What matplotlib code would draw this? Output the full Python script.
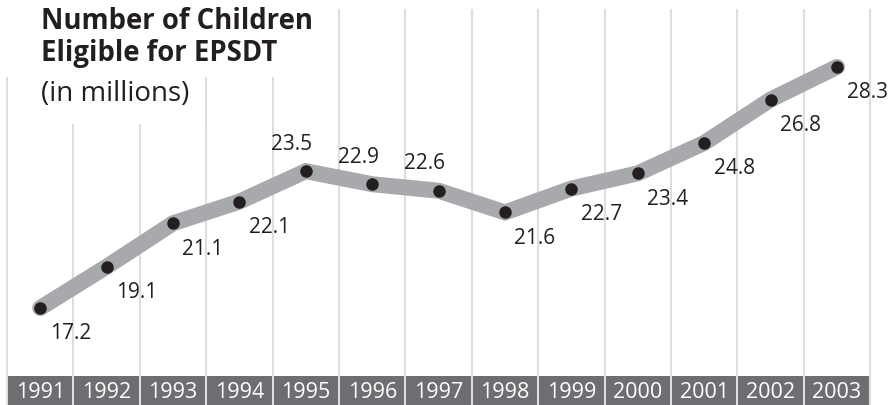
import matplotlib.pyplot as plt
from matplotlib.patches import Rectangle

years = ['1991', '1992', '1993', '1994', '1995', '1996', '1997',
         '1998', '1999', '2000', '2001', '2002', '2003']
children = [17.2, 19.1, 21.1, 22.1, 23.5, 22.9, 22.6,
            21.6, 22.7, 23.4, 24.8, 26.8, 28.3]
label_above = [False, False, False, False, True, True, True,
               False, False, False, False, False, False]

plt.rcParams['font.family'] = ['Open Sans', 'DejaVu Sans']

W, H = 890, 406
fig = plt.figure(figsize=(W / 100, H / 100), dpi=100)
ax = fig.add_axes([0, 0, 1, 1])
ax.axis('off')

cell = 66.4
x0 = 7
ax.set_xlim(-0.5 - x0 / cell, -0.5 + (W - x0) / cell)
ytop, ybot = 31.43, 12.73
ax.set_ylim(ybot, ytop)


def ypix(p):
    return ytop - p / H * (ytop - ybot)


band_top = ypix(377)
x = list(range(len(years)))

# dark band with years
ax.bar(x, band_top - ybot, bottom=ybot, width=1, color='#6d6e71',
       linewidth=0, zorder=1)
for i, yr in enumerate(years):
    ax.text(i, (band_top + ybot) / 2 - 0.05, yr, color='white', fontsize=15.5,
            ha='center', va='center', zorder=5)

# vertical grid lines
ax.vlines([i - 0.5 for i in range(len(years) + 1)], ybot, ypix(10),
          color='#dedede', lw=1.5, zorder=2)

# white boxes behind the title
ax.add_patch(Rectangle((0, 1 - 78 / H), 330 / W, 78 / H, transform=ax.transAxes,
                       facecolor='white', edgecolor='none', zorder=3))
ax.add_patch(Rectangle((20 / W, 1 - 125 / H), 185 / W, 48 / H, transform=ax.transAxes,
                       facecolor='white', edgecolor='none', zorder=3))

fig.text(41 / W, 1 - 29 / H, 'Number of Children', fontsize=19.8, fontweight='bold',
         color='#231f20', va='baseline', zorder=6)
fig.text(41 / W, 1 - 61 / H, 'Eligible for EPSDT', fontsize=19.8, fontweight='bold',
         color='#231f20', va='baseline', zorder=6)
fig.text(41 / W, 1 - 101 / H, '(in millions)', fontsize=20,
         color='#231f20', va='baseline', zorder=6)

# line and points
ax.plot(x, children, color='#a7a9ac', lw=11.5, solid_capstyle='round',
        solid_joinstyle='miter', zorder=4)
ax.plot(x, children, 'o', color='#231f20', ms=8, zorder=5)

for i, v in enumerate(children):
    if label_above[i]:
        off = (-14, 28)
    else:
        off = (30, -25)
    ax.annotate(f'{v:.1f}', (i, v), xytext=off, textcoords='offset pixels',
                ha='center', va='center', fontsize=15, color='#231f20', zorder=6)

fig.savefig('out.png', dpi=100)
